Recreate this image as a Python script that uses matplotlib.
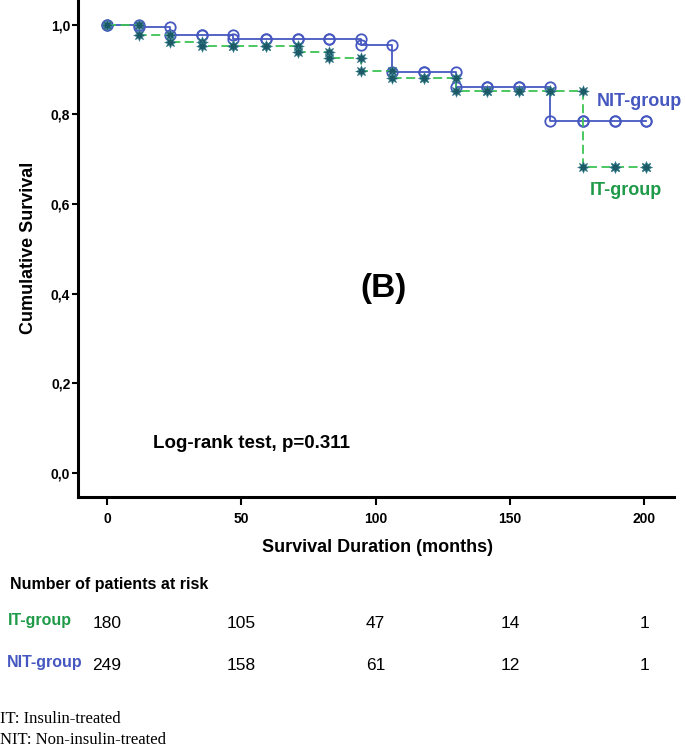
import matplotlib
matplotlib.use("Agg")
import matplotlib.pyplot as plt
from matplotlib import font_manager
from matplotlib.transforms import blended_transform_factory

# times of the marks on both curves (months)
months = [0, 12, 23.5, 35.5, 47, 59, 71, 82.5, 94.5, 106, 118, 130,
          141.5, 153.5, 165, 177, 189, 200.5]

it_survival = [1.0, 0.977, 0.962, 0.952, 0.952, 0.952, 0.940, 0.925, 0.897,
               0.882, 0.882, 0.853, 0.853, 0.853, 0.853, 0.682, 0.682, 0.682]
nit_survival = [1.0, 0.994, 0.976, 0.976, 0.967, 0.967, 0.967, 0.967, 0.954,
                0.894, 0.894, 0.861, 0.861, 0.861, 0.785, 0.785, 0.785, 0.785]

x_ticks = [0, 50, 100, 150, 200]
y_ticks = [0.0, 0.2, 0.4, 0.6, 0.8, 1.0]
y_tick_labels = ["0,0", "0,2", "0,4", "0,6", "0,8", "1,0"]

risk_months = [0, 50, 100, 150, 200]
it_at_risk = [180, 105, 47, 14, 1]
nit_at_risk = [249, 158, 61, 12, 1]

IT_GREEN = "#1e9a48"
IT_LINE = "#3cc454"
STAR = "#1c5a68"
NIT_BLUE = "#4658c0"

names = {f.name for f in font_manager.fontManager.ttflist}
if "Liberation Sans Narrow" in names:
    tick_font, tick_size = "Liberation Sans Narrow", 12
else:
    tick_font, tick_size = "Liberation Sans", 10
SANS = "Liberation Sans"


def marker_points(t, s):
    xs, ys = [], []
    prev = s[0]
    for ti, si in zip(t, s):
        xs += [ti, ti]
        ys += [prev, si]
        prev = si
    return xs, ys


W, H = 685, 750
fig = plt.figure(figsize=(W / 100, H / 100), dpi=100)


def fx(px):
    return px / W


def fy(py):
    return 1 - py / H


ax = fig.add_axes([fx(78), fy(497), fx(674) - fx(78), fy(0) - fy(497)])

# NIT group
ax.plot(months, nit_survival, drawstyle="steps-post", color=NIT_BLUE, lw=1.3, zorder=2)
mx, my = marker_points(months, nit_survival)
ax.plot(mx, my, ls="none", marker="o", ms=7.5, mfc="none", mec=NIT_BLUE, mew=1.3, zorder=3)

# IT group
ax.plot(months, it_survival, drawstyle="steps-post", color=IT_LINE, lw=1.3,
        dashes=(5, 2.5), zorder=4)
mx, my = marker_points(months, it_survival)
ax.plot(mx, my, ls="none", marker=(8, 1, 0), ms=8.5, color=STAR, mec="#3f8593",
        mew=0.4, zorder=5)

ax.set_xlim(-10.8, 211)
ax.set_ylim(-0.054, 1.055)
ax.set_xticks(x_ticks)
ax.set_xticklabels([str(v) for v in x_ticks])
ax.set_yticks(y_ticks)
ax.set_yticklabels(y_tick_labels)
for lab in ax.get_xticklabels() + ax.get_yticklabels():
    lab.set_fontfamily(tick_font)
    lab.set_fontweight("bold")
    lab.set_fontsize(tick_size)
ax.tick_params(axis="y", length=4, width=1.5, pad=1.5)
ax.tick_params(axis="x", length=6, width=1.5, pad=5)
for side in ["top", "right"]:
    ax.spines[side].set_visible(False)
for side in ["left", "bottom"]:
    ax.spines[side].set_linewidth(2.2)

fig.text(fx(29), fy(248), "Cumulative Survival", rotation=90, ha="center", va="center",
         family=SANS, weight="bold", fontsize=13)
fig.text(fx(377), fy(547), "Survival Duration (months)", ha="center", va="center",
         family=SANS, weight="bold", fontsize=13)

fig.text(fx(383), fy(289), "(B)", ha="center", va="center", family=SANS,
         weight="bold", fontsize=24)
fig.text(fx(153), fy(443), "Log-rank test, p=0.311", ha="left", va="center",
         family=SANS, weight="bold", fontsize=13.5)

fig.text(fx(597), fy(102), "NIT-group", ha="left", va="center", family=SANS,
         weight="bold", fontsize=13, color=NIT_BLUE)
fig.text(fx(590), fy(190), "IT-group", ha="left", va="center", family=SANS,
         weight="bold", fontsize=13, color=IT_GREEN)

# number at risk table
fig.text(fx(10), fy(585), "Number of patients at risk", ha="left", va="center",
         family=SANS, weight="bold", fontsize=11.5)
fig.text(fx(8), fy(621), "IT-group", ha="left", va="center", family=SANS,
         weight="bold", fontsize=11.5, color=IT_GREEN)
fig.text(fx(7), fy(663), "NIT-group", ha="left", va="center", family=SANS,
         weight="bold", fontsize=11.5, color=NIT_BLUE)

trans = blended_transform_factory(ax.transData, fig.transFigure)
for m, a, b in zip(risk_months, it_at_risk, nit_at_risk):
    fig.text(m, fy(624), str(a), transform=trans, ha="center", va="center",
             family=SANS, fontsize=12.5)
    fig.text(m, fy(666), str(b), transform=trans, ha="center", va="center",
             family=SANS, fontsize=12.5)

fig.text(0.0, fy(719), "IT: Insulin-treated", ha="left", va="center",
         family="Liberation Serif", fontsize=12)
fig.text(0.0, fy(740), "NIT: Non-insulin-treated", ha="left", va="center",
         family="Liberation Serif", fontsize=12)

fig.savefig("out.png", dpi=100)
